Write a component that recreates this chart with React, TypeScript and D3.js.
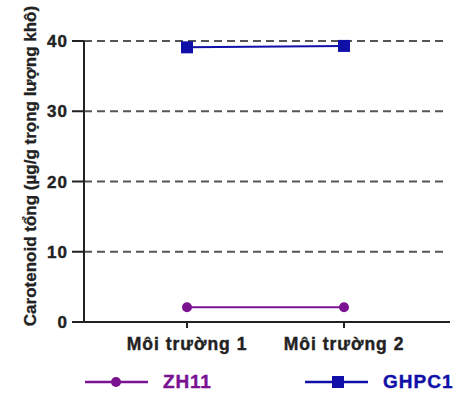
import React from "react";
import * as d3 from "d3";

const categories = ["Môi trường 1", "Môi trường 2"];
const zh11Values = [2.1, 2.1];
const ghpc1Values = [39.1, 39.3];
const yTicks = [0, 10, 20, 30, 40];
const seriesNames = ["ZH11", "GHPC1"];

const W = 461, H = 394;
const left = 84, right = 450, top = 41, bottom = 322;
const font = "Liberation Sans, Arial, sans-serif";

export default function App() {
  const y = d3.scaleLinear().domain([0, 40]).range([bottom, top]);
  const x = d3.scalePoint<string>().domain(categories).range([187, 344]);
  const line = d3.line<number>().x((_, i) => x(categories[i])!).y((d) => y(d));
  const purple = "#7a1292";
  const blue = "#1010a8";
  const ink = "#222";
  return (
    <svg width={W} height={H} style={{ position: "absolute", left: 0, top: 0, background: "#fff" }} fontFamily={font}>
      {yTicks.slice(1).map((t) => (
        <line key={t} x1={left} x2={445} y1={y(t)} y2={y(t)} stroke="#555" strokeWidth={2} strokeDasharray="8,5" />
      ))}
      <line x1={left} x2={left} y1={top} y2={bottom + 1} stroke={ink} strokeWidth={2} />
      <line x1={left - 1} x2={right} y1={bottom} y2={bottom} stroke={ink} strokeWidth={2} />
      {yTicks.map((t) => (
        <g key={t}>
          <line x1={72} x2={left} y1={y(t)} y2={y(t)} stroke={ink} strokeWidth={2} />
          <text x={68} y={y(t)} dy="0.36em" textAnchor="end" fontSize={17} letterSpacing={1} fontWeight="bold" fill={ink} stroke={ink} strokeWidth={0.4}>{t}</text>
        </g>
      ))}
      {categories.map((c) => (
        <g key={c}>
          <line x1={x(c)} x2={x(c)} y1={bottom} y2={bottom + 6} stroke={ink} strokeWidth={2} />
          <text x={x(c)} y={350} textAnchor="middle" fontSize={17.5} letterSpacing={1} fontWeight="bold" fill={ink} stroke={ink} strokeWidth={0.4}>{c}</text>
        </g>
      ))}
      <text transform={`translate(36,166) rotate(-90)`} textAnchor="middle" fontSize={17} fontWeight="bold" fill={ink} stroke={ink} strokeWidth={0.3}>
        Carotenoid tổng (µg/g trọng lượng khô)
      </text>
      <path d={line(zh11Values)!} fill="none" stroke={purple} strokeWidth={2} />
      {zh11Values.map((v, i) => (
        <circle key={i} cx={x(categories[i])} cy={y(v)} r={5} fill={purple} />
      ))}
      <path d={line(ghpc1Values)!} fill="none" stroke={blue} strokeWidth={2} />
      {ghpc1Values.map((v, i) => (
        <rect key={i} x={x(categories[i])! - 6} y={y(v) - 6} width={12} height={12} fill={blue} />
      ))}
      <g>
        <line x1={85} x2={148} y1={382} y2={382} stroke={purple} strokeWidth={2.5} />
        <circle cx={116} cy={382} r={5} fill={purple} />
        <text x={163} y={388} fontSize={19} letterSpacing={0.8} fontWeight="bold" fill={purple} stroke={purple} strokeWidth={0.4}>{seriesNames[0]}</text>
        <line x1={305} x2={368} y1={382} y2={382} stroke={blue} strokeWidth={2.5} />
        <rect x={332} y={376} width={12} height={12} fill={blue} />
        <text x={383} y={388} fontSize={19} letterSpacing={1} fontWeight="bold" fill={blue} stroke={blue} strokeWidth={0.4}>{seriesNames[1]}</text>
      </g>
    </svg>
  );
}
